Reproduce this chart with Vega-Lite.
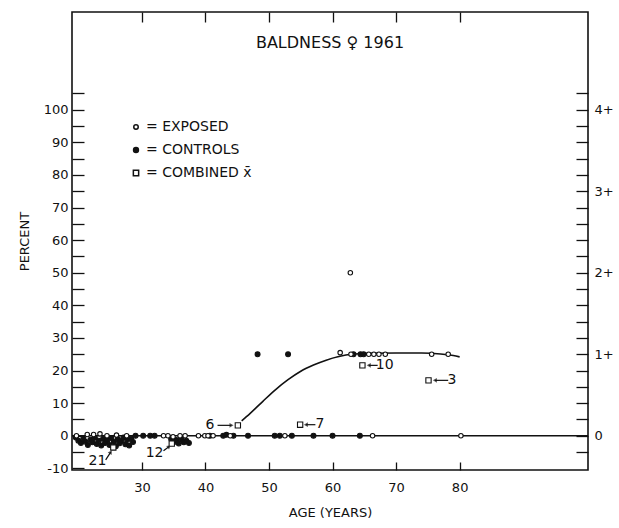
{
  "$schema": "https://vega.github.io/schema/vega-lite/v6.json",
  "width": 516,
  "height": 458,
  "autosize": "none",
  "padding": {"left": 72, "top": 12, "right": 31, "bottom": 58},
  "background": "white",
  "config": {
    "view": {"stroke": "#111", "strokeWidth": 1.6},
    "font": "DejaVu Sans",
    "axis": {"grid": false, "domain": false, "labelColor": "#111", "titleColor": "#111", "tickColor": "#111", "labelFontSize": 13, "titleFontSize": 13, "titleFontWeight": "normal", "tickWidth": 1.3, "labelOverlap": false, "labelFlush": false}
  },
  "title": {"text": "BALDNESS ♀ 1961", "frame": "group", "anchor": "middle", "fontSize": 16, "fontWeight": "normal", "color": "#111", "offset": -40},
  "datasets": {
    "points": [
      {"age": 19.6, "pct": -0.5, "group": "CONTROLS"},
      {"age": 20.0, "pct": -1.5, "group": "CONTROLS"},
      {"age": 20.4, "pct": -2.2, "group": "CONTROLS"},
      {"age": 20.8, "pct": -0.8, "group": "CONTROLS"},
      {"age": 21.1, "pct": -1.8, "group": "CONTROLS"},
      {"age": 21.5, "pct": -2.8, "group": "CONTROLS"},
      {"age": 21.9, "pct": -1.2, "group": "CONTROLS"},
      {"age": 22.2, "pct": -2.0, "group": "CONTROLS"},
      {"age": 22.6, "pct": -0.6, "group": "CONTROLS"},
      {"age": 22.9, "pct": -2.5, "group": "CONTROLS"},
      {"age": 23.2, "pct": -1.5, "group": "CONTROLS"},
      {"age": 23.6, "pct": -3.0, "group": "CONTROLS"},
      {"age": 23.9, "pct": -0.9, "group": "CONTROLS"},
      {"age": 24.2, "pct": -2.2, "group": "CONTROLS"},
      {"age": 24.6, "pct": -1.3, "group": "CONTROLS"},
      {"age": 24.9, "pct": -2.8, "group": "CONTROLS"},
      {"age": 25.2, "pct": -0.7, "group": "CONTROLS"},
      {"age": 25.6, "pct": -1.9, "group": "CONTROLS"},
      {"age": 25.9, "pct": -3.2, "group": "CONTROLS"},
      {"age": 26.2, "pct": -1.0, "group": "CONTROLS"},
      {"age": 26.5, "pct": -2.3, "group": "CONTROLS"},
      {"age": 26.8, "pct": -1.6, "group": "CONTROLS"},
      {"age": 27.1, "pct": -0.5, "group": "CONTROLS"},
      {"age": 27.4, "pct": -2.6, "group": "CONTROLS"},
      {"age": 27.7, "pct": -1.2, "group": "CONTROLS"},
      {"age": 28.0, "pct": -3.0, "group": "CONTROLS"},
      {"age": 28.3, "pct": -0.8, "group": "CONTROLS"},
      {"age": 28.6, "pct": -1.9, "group": "CONTROLS"},
      {"age": 29.0, "pct": 0, "group": "CONTROLS"},
      {"age": 30.2, "pct": 0, "group": "CONTROLS"},
      {"age": 31.3, "pct": 0, "group": "CONTROLS"},
      {"age": 32.0, "pct": 0, "group": "CONTROLS"},
      {"age": 34.6, "pct": -1.0, "group": "CONTROLS"},
      {"age": 35.0, "pct": -2.0, "group": "CONTROLS"},
      {"age": 35.4, "pct": -1.3, "group": "CONTROLS"},
      {"age": 35.8, "pct": -2.4, "group": "CONTROLS"},
      {"age": 36.2, "pct": -1.0, "group": "CONTROLS"},
      {"age": 36.6, "pct": -2.0, "group": "CONTROLS"},
      {"age": 37.0, "pct": -1.5, "group": "CONTROLS"},
      {"age": 37.4, "pct": -2.2, "group": "CONTROLS"},
      {"age": 40.7, "pct": 0, "group": "CONTROLS"},
      {"age": 42.8, "pct": 0, "group": "CONTROLS"},
      {"age": 43.3, "pct": 0.3, "group": "CONTROLS"},
      {"age": 44.4, "pct": 0, "group": "CONTROLS"},
      {"age": 46.7, "pct": 0, "group": "CONTROLS"},
      {"age": 50.9, "pct": 0, "group": "CONTROLS"},
      {"age": 51.7, "pct": 0, "group": "CONTROLS"},
      {"age": 53.6, "pct": 0, "group": "CONTROLS"},
      {"age": 57.0, "pct": 0, "group": "CONTROLS"},
      {"age": 60.0, "pct": 0, "group": "CONTROLS"},
      {"age": 64.3, "pct": 0, "group": "CONTROLS"},
      {"age": 48.2, "pct": 25, "group": "CONTROLS"},
      {"age": 53.0, "pct": 25, "group": "CONTROLS"},
      {"age": 63.3, "pct": 25, "group": "CONTROLS"},
      {"age": 64.4, "pct": 25, "group": "CONTROLS"},
      {"age": 64.9, "pct": 25, "group": "CONTROLS"},
      {"age": 19.7, "pct": 0, "group": "EXPOSED"},
      {"age": 21.4, "pct": 0.4, "group": "EXPOSED"},
      {"age": 22.4, "pct": 0.4, "group": "EXPOSED"},
      {"age": 23.4, "pct": 0.6, "group": "EXPOSED"},
      {"age": 24.5, "pct": 0, "group": "EXPOSED"},
      {"age": 26.0, "pct": 0.2, "group": "EXPOSED"},
      {"age": 27.6, "pct": 0, "group": "EXPOSED"},
      {"age": 33.4, "pct": 0, "group": "EXPOSED"},
      {"age": 34.1, "pct": 0, "group": "EXPOSED"},
      {"age": 34.9, "pct": -0.3, "group": "EXPOSED"},
      {"age": 36.0, "pct": 0, "group": "EXPOSED"},
      {"age": 36.8, "pct": 0, "group": "EXPOSED"},
      {"age": 38.9, "pct": 0, "group": "EXPOSED"},
      {"age": 39.9, "pct": 0, "group": "EXPOSED"},
      {"age": 40.4, "pct": 0, "group": "EXPOSED"},
      {"age": 41.2, "pct": 0, "group": "EXPOSED"},
      {"age": 43.9, "pct": 0, "group": "EXPOSED"},
      {"age": 52.5, "pct": 0, "group": "EXPOSED"},
      {"age": 66.3, "pct": 0, "group": "EXPOSED"},
      {"age": 80.2, "pct": 0, "group": "EXPOSED"},
      {"age": 61.2, "pct": 25.5, "group": "EXPOSED"},
      {"age": 62.9, "pct": 25, "group": "EXPOSED"},
      {"age": 65.7, "pct": 25, "group": "EXPOSED"},
      {"age": 66.5, "pct": 25, "group": "EXPOSED"},
      {"age": 67.3, "pct": 25, "group": "EXPOSED"},
      {"age": 68.3, "pct": 25, "group": "EXPOSED"},
      {"age": 75.6, "pct": 25, "group": "EXPOSED"},
      {"age": 78.2, "pct": 25, "group": "EXPOSED"},
      {"age": 62.8, "pct": 50, "group": "EXPOSED"},
      {"age": 25.5, "pct": -3.6, "group": "COMBINED x̄"},
      {"age": 34.7, "pct": -2.4, "group": "COMBINED x̄"},
      {"age": 45.1, "pct": 3.2, "group": "COMBINED x̄"},
      {"age": 54.9, "pct": 3.4, "group": "COMBINED x̄"},
      {"age": 64.7, "pct": 21.6, "group": "COMBINED x̄"},
      {"age": 75.1, "pct": 17.0, "group": "COMBINED x̄"}
    ],
    "curve": [
      {"age": 45.7, "pct": 4.6},
      {"age": 47, "pct": 6.8},
      {"age": 49, "pct": 10.5},
      {"age": 51, "pct": 14.1},
      {"age": 53, "pct": 17.2},
      {"age": 55, "pct": 19.8},
      {"age": 57, "pct": 21.7},
      {"age": 59, "pct": 23.2},
      {"age": 61, "pct": 24.3},
      {"age": 63, "pct": 25.0},
      {"age": 66, "pct": 25.3},
      {"age": 70, "pct": 25.4},
      {"age": 74, "pct": 25.4},
      {"age": 77, "pct": 25.1},
      {"age": 79, "pct": 24.6},
      {"age": 80, "pct": 24.2}
    ],
    "notes": [
      {"label": "6", "lx": 40.7, "ly": 3.2, "ax": 41.9, "ay": 3.2, "bx": 44.1, "by": 3.2, "ang": 90},
      {"label": "7", "lx": 58.0, "ly": 3.5, "ax": 57.3, "ay": 3.4, "bx": 55.8, "by": 3.4, "ang": 270},
      {"label": "10", "lx": 68.2, "ly": 21.6, "ax": 67.1, "ay": 21.6, "bx": 65.7, "by": 21.6, "ang": 270},
      {"label": "3", "lx": 78.8, "ly": 17.0, "ax": 78.2, "ay": 17.0, "bx": 76.1, "by": 17.0, "ang": 270},
      {"label": "12", "lx": 32.0, "ly": -5.2, "ax": 33.4, "ay": -4.6, "bx": 34.3, "by": -3.3, "ang": 53},
      {"label": "21", "lx": 23.0, "ly": -7.6, "ax": 24.3, "ay": -7.4, "bx": 25.1, "by": -5.0, "ang": 33}
    ]
  },
  "resolve": {"axis": {"x": "independent", "y": "independent"}},
  "layer": [
    {
      "data": {"values": [{"base": 0}]},
      "mark": {"type": "rule", "color": "#111", "strokeWidth": 1.4},
      "encoding": {
        "y": {"field": "base", "type": "quantitative", "scale": {"domain": [-10.5, 130], "nice": false, "zero": false}, "axis": null}
      }
    },
    {
      "data": {"name": "curve"},
      "mark": {"type": "line", "color": "#111", "strokeWidth": 1.6, "interpolate": "monotone"},
      "encoding": {
        "x": {"field": "age", "type": "quantitative", "scale": {"domain": [19, 100.2], "nice": false, "zero": false},
              "axis": {"orient": "top", "values": [30, 40, 50, 60, 70, 80], "tickSize": -10, "labels": false, "title": null}},
        "y": {"field": "pct", "type": "quantitative", "scale": {"domain": [-10.5, 130], "nice": false, "zero": false},
              "axis": {"orient": "right", "values": [-5, 0, 5, 10, 15, 20, 25, 30, 35, 40, 45, 50, 55, 60, 65, 70, 75, 80, 85, 90, 95, 100, 105], "tickSize": -12, "labelPadding": 18, "labelFontSize": 13,
                       "labelExpr": "datum.value == 0 ? '0' : ((datum.value % 25 == 0 && datum.value > 0) ? (datum.value / 25) + '+' : '')", "title": null}}
      }
    },
    {
      "data": {"name": "notes"},
      "mark": {"type": "rule", "color": "#111", "strokeWidth": 1.2},
      "encoding": {
        "x": {"field": "ax", "type": "quantitative", "scale": {"domain": [19, 100.2], "nice": false, "zero": false}, "axis": null},
        "x2": {"field": "bx"},
        "y": {"field": "ay", "type": "quantitative", "scale": {"domain": [-10.5, 130], "nice": false, "zero": false}, "axis": null},
        "y2": {"field": "by"}
      }
    },
    {
      "data": {"name": "notes"},
      "mark": {"type": "point", "shape": "triangle-up", "filled": true, "color": "#111", "size": 22},
      "encoding": {
        "x": {"field": "bx", "type": "quantitative", "scale": {"domain": [19, 100.2], "nice": false, "zero": false}, "axis": null},
        "y": {"field": "by", "type": "quantitative", "scale": {"domain": [-10.5, 130], "nice": false, "zero": false}, "axis": null},
        "angle": {"field": "ang", "type": "quantitative", "scale": null}
      }
    },
    {
      "data": {"name": "points"},
      "mark": {"type": "point", "filled": true, "stroke": "#111", "strokeWidth": 1.1, "opacity": 1},
      "encoding": {
        "x": {"field": "age", "type": "quantitative", "scale": {"domain": [19, 100.2], "nice": false, "zero": false},
              "axis": {"orient": "bottom", "values": [30, 40, 50, 60, 70, 80], "tickSize": -8, "labelPadding": 19, "title": "AGE (YEARS)", "titlePadding": 12}},
        "y": {"field": "pct", "type": "quantitative", "scale": {"domain": [-10.5, 130], "nice": false, "zero": false},
              "axis": {"orient": "left", "values": [-10, -5, 0, 5, 10, 15, 20, 25, 30, 35, 40, 45, 50, 55, 60, 65, 70, 75, 80, 85, 90, 95, 100, 105], "tickSize": -12, "labelPadding": 16,
                       "labelExpr": "(datum.value % 10 == 0 && datum.value <= 100) ? (datum.value < 0 ? '-' + abs(datum.value) : datum.label) : ''", "title": "PERCENT", "titlePadding": 12}},
        "shape": {"field": "group", "type": "nominal",
                  "scale": {"domain": ["EXPOSED", "CONTROLS", "COMBINED x̄"], "range": ["circle", "circle", "square"]},
                  "legend": {"orient": "none", "legendX": 57, "legendY": 108, "title": null, "labelExpr": "'= ' + datum.label", "labelFontSize": 14, "labelColor": "#111", "rowPadding": 9, "labelOffset": 3, "padding": 0,
                             "encode": {"symbols": {"update": {"stroke": {"value": "#111"}, "strokeWidth": {"value": 1.1}}}}}},
        "fill": {"field": "group", "type": "nominal",
                 "scale": {"domain": ["EXPOSED", "CONTROLS", "COMBINED x̄"], "range": ["white", "#111", "white"]},
                 "legend": {"orient": "none", "legendX": 57, "legendY": 108, "title": null, "labelExpr": "'= ' + datum.label", "labelFontSize": 14, "labelColor": "#111", "rowPadding": 9, "labelOffset": 3, "padding": 0,
                            "encode": {"symbols": {"update": {"stroke": {"value": "#111"}, "strokeWidth": {"value": 1.1}}}}}},
        "size": {"field": "group", "type": "nominal",
                 "scale": {"domain": ["EXPOSED", "CONTROLS", "COMBINED x̄"], "range": [20, 28, 52]},
                 "legend": {"orient": "none", "legendX": 57, "legendY": 108, "title": null, "labelExpr": "'= ' + datum.label", "labelFontSize": 14, "labelColor": "#111", "rowPadding": 9, "labelOffset": 3, "padding": 0,
                            "encode": {"symbols": {"update": {"stroke": {"value": "#111"}, "strokeWidth": {"value": 1.1}}}}}}
      }
    },
    {
      "data": {"name": "notes"},
      "mark": {"type": "text", "fontSize": 14, "color": "#111", "align": "center", "baseline": "middle"},
      "encoding": {
        "x": {"field": "lx", "type": "quantitative", "scale": {"domain": [19, 100.2], "nice": false, "zero": false}, "axis": null},
        "y": {"field": "ly", "type": "quantitative", "scale": {"domain": [-10.5, 130], "nice": false, "zero": false}, "axis": null},
        "text": {"field": "label"}
      }
    }
  ]
}
